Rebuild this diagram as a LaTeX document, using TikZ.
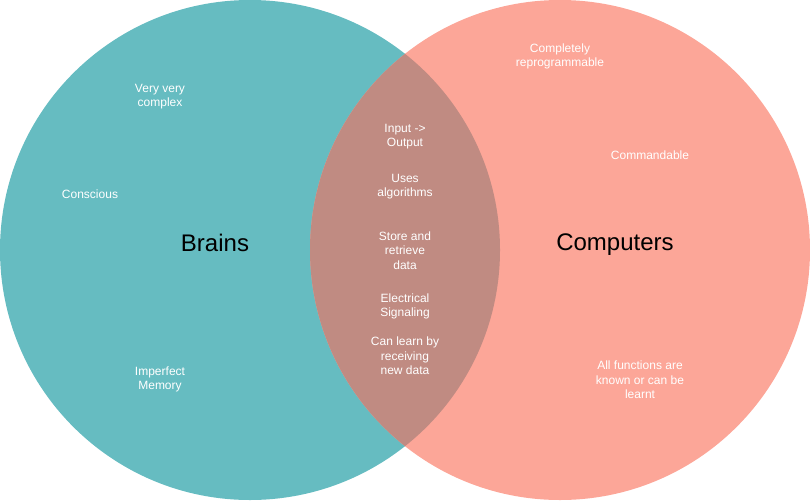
\documentclass[tikz,border=0pt]{standalone}
\usepackage{fontspec}
\setmainfont{Liberation Sans}
\usepackage{tikz}
\definecolor{brainteal}{RGB}{102, 188, 193}
\definecolor{compsalmon}{RGB}{252, 166, 152}
\definecolor{overlap}{RGB}{192, 139, 130}

\begin{document}
\begin{tikzpicture}[x=1pt, y=-1pt,
				txt/.style={text=white, align=center, inner sep=0pt,
					font=\fontsize{12}{14.4}\selectfont},
				lbl/.style={text=black, align=center, inner sep=0pt,
					font=\fontsize{24}{28}\selectfont}]
				
				\useasboundingbox (0,0) rectangle (810,500);
				
				%% ── circles ──
				\fill[brainteal] (250,250) circle[radius=250];
				\fill[compsalmon] (560,250) circle[radius=250];
				\begin{scope}
					\clip (250,250) circle[radius=250];
					\fill[overlap] (560,250) circle[radius=250];
				\end{scope}
				
				%% ── brains ──
				\node[lbl] (brains) at (215,242.5) {Brains};
				\node[txt] (complex) at (160,96.5) {Very very\\complex};
				\node[txt] (conscious) at (90,194) {Conscious};
				\node[txt] (memory) at (160,379.5) {Imperfect\\Memory};
				
				%% ── both ──
				\node[txt] (inout) at (405,136.5) {Input ->\\Output};
				\node[txt] (algo) at (405,186.5) {Uses\\algorithms};
				\node[txt] (store) at (405,250.5) {Store and\\retrieve\\data};
				\node[txt] (signal) at (405,306.5) {Electrical\\Signaling};
				\node[txt] (learn) at (405,356) {Can learn by\\receiving\\new data};
				
				%% ── computers ──
				\node[lbl] (computers) at (615,244.5) {Computers};
				\node[txt] (reprog) at (560,56.5) {Completely\\reprogrammable};
				\node[txt] (command) at (650,155.5) {Commandable};
				\node[txt] (funcs) at (640,380) {All functions are\\known or can be\\learnt};
				
\end{tikzpicture}
\end{document}
